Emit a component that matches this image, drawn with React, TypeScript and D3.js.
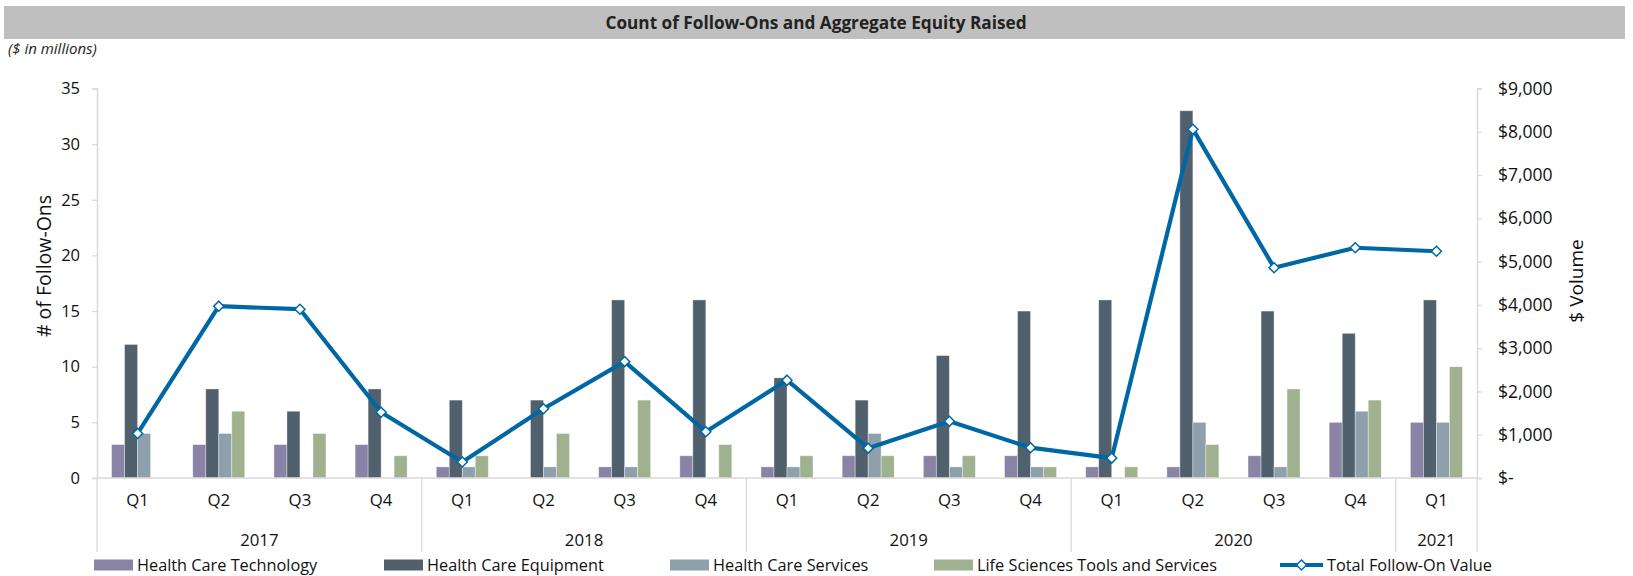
import React, { useEffect, useRef } from 'react';
import * as d3 from 'd3';

const quarters = ['Q1', 'Q2', 'Q3', 'Q4', 'Q1', 'Q2', 'Q3', 'Q4', 'Q1', 'Q2', 'Q3', 'Q4', 'Q1', 'Q2', 'Q3', 'Q4', 'Q1'];
const years = ['2017', '2018', '2019', '2020', '2021'];
const quartersPerYear = [4, 4, 4, 4, 1];

const seriesNames = ['Health Care Technology', 'Health Care Equipment', 'Health Care Services', 'Life Sciences Tools and Services'];
const healthCareTechnology = [3, 3, 3, 3, 1, 0, 1, 2, 1, 2, 2, 2, 1, 1, 2, 5, 5];
const healthCareEquipment = [12, 8, 6, 8, 7, 7, 16, 16, 9, 7, 11, 15, 16, 33, 15, 13, 16];
const healthCareServices = [4, 4, 0, 0, 1, 1, 1, 0, 1, 4, 1, 1, 0, 5, 1, 6, 5];
const lifeSciences = [0, 6, 4, 2, 2, 4, 7, 3, 2, 2, 2, 1, 1, 3, 8, 7, 10];
const totalValue = [1030, 3970, 3900, 1520, 370, 1600, 2690, 1070, 2260, 690, 1310, 700, 460, 8060, 4860, 5320, 5240];
const lineName = 'Total Follow-On Value';

const colors = ['#8983a5', '#50606d', '#8fa0ad', '#9fb18e'];
const lineColor = '#0067a5';
const font = "'Open Sans', sans-serif";

const App: React.FC = () => {
  const svgRef = useRef<SVGSVGElement>(null);

  useEffect(() => {
    if (!svgRef.current) return;
    const svg = d3.select(svgRef.current);
    svg.selectAll('*').remove();

    const left = 97, right = 1477, top = 88.5, bottom = 478;
    const seriesData = [healthCareTechnology, healthCareEquipment, healthCareServices, lifeSciences];

    // title bar
    svg.append('rect').attr('x', 4).attr('y', 6).attr('width', 1621).attr('height', 33).attr('fill', '#bfbfbf');
    svg.append('text').attr('x', 816).attr('y', 29).attr('text-anchor', 'middle')
      .attr('font-family', font).attr('font-weight', 700).attr('font-size', 17.2).attr('fill', '#222')
      .text('Count of Follow-Ons and Aggregate Equity Raised');
    svg.append('text').attr('x', 8).attr('y', 54).attr('font-family', font).attr('font-style', 'italic')
      .attr('font-size', 15).attr('fill', '#222').text('($ in millions)');

    const x = d3.scaleBand<number>().domain(d3.range(quarters.length)).range([left, right]).padding(0);
    const inner = d3.scaleBand<string>().domain(seriesNames).range([-26, 26]).padding(0);
    const yL = d3.scaleLinear().domain([0, 35]).range([bottom, top]);
    const yR = d3.scaleLinear().domain([0, 9000]).range([bottom, top]);
    const cx = (i: number) => x(i)! + x.bandwidth() / 2;

    const axisColor = '#d9d9d9';

    // left axis
    const gL = svg.append('g').attr('transform', `translate(${left},0)`)
      .call(d3.axisLeft(yL).tickValues(d3.range(0, 36, 5)).tickSize(5).tickPadding(12));
    gL.select('.domain').attr('stroke', axisColor).attr('stroke-width', 1.5);
    gL.selectAll('.tick line').attr('stroke', axisColor).attr('stroke-width', 1.2);
    gL.selectAll('.tick text').attr('font-family', font).attr('font-size', 16.5).attr('fill', '#111');

    // right axis
    const fmt = (v: number) => (v === 0 ? '$-' : '$' + d3.format(',')(v));
    const gR = svg.append('g').attr('transform', `translate(${right},0)`)
      .call(d3.axisRight(yR).tickValues(d3.range(0, 9001, 1000)).tickSize(5).tickPadding(16).tickFormat(d => fmt(+d)));
    gR.select('.domain').attr('stroke', axisColor).attr('stroke-width', 1.5);
    gR.selectAll('.tick line').attr('stroke', axisColor).attr('stroke-width', 1.2);
    gR.selectAll('.tick text').attr('font-family', font).attr('font-size', 17.5).attr('fill', '#111');

    svg.append('text').attr('transform', `translate(51,266) rotate(-90)`).attr('text-anchor', 'middle')
      .attr('font-family', font).attr('font-size', 19.5).attr('fill', '#111').text('# of Follow-Ons');
    svg.append('text').attr('transform', `translate(1583,281) rotate(-90)`).attr('text-anchor', 'middle')
      .attr('font-family', font).attr('font-size', 19).attr('fill', '#111').text('$ Volume');

    // bars
    seriesNames.forEach((name, s) => {
      svg.append('g').selectAll('rect').data(seriesData[s]).enter().append('rect')
        .attr('x', (_, i) => cx(i) + inner(name)!)
        .attr('width', inner.bandwidth())
        .attr('y', d => yL(d))
        .attr('height', d => bottom - yL(d))
        .attr('fill', colors[s])
        .attr('stroke', d => (d > 0 ? 'rgba(255,255,255,0.45)' : 'none'))
        .attr('stroke-width', 0.8);
    });

    // category axis
    svg.append('line').attr('x1', left).attr('x2', right).attr('y1', bottom).attr('y2', bottom).attr('stroke', axisColor).attr('stroke-width', 1.5);
    svg.append('g').selectAll('text').data(quarters).enter().append('text')
      .attr('x', (_, i) => cx(i)).attr('y', 506).attr('text-anchor', 'middle')
      .attr('font-family', font).attr('font-size', 16.8).attr('fill', '#111').text(d => d);

    let start = 0;
    const bounds: number[] = [x(0)!];
    years.forEach((yr, k) => {
      const end = start + quartersPerYear[k];
      const x0 = x(start)!;
      const x1 = end < quarters.length ? x(end)! : right;
      bounds.push(x1);
      svg.append('text').attr('x', (x0 + x1) / 2).attr('y', 546).attr('text-anchor', 'middle')
        .attr('font-family', font).attr('font-size', 16.8).attr('fill', '#111').text(yr);
      start = end;
    });
    svg.append('g').selectAll('line').data(bounds).enter().append('line')
      .attr('x1', d => d).attr('x2', d => d).attr('y1', bottom).attr('y2', 552)
      .attr('stroke', axisColor).attr('stroke-width', 1.2);

    // line
    const line = d3.line<number>().x((_, i) => cx(i)).y(d => yR(d));
    svg.append('path').datum(totalValue).attr('d', line).attr('fill', 'none')
      .attr('stroke', lineColor).attr('stroke-width', 4.2).attr('stroke-linejoin', 'round');
    const diamond = d3.symbol().type(d3.symbolDiamond2).size(64);
    svg.append('g').selectAll('path').data(totalValue).enter().append('path')
      .attr('d', diamond).attr('transform', (d, i) => `translate(${cx(i)},${yR(d)})`)
      .attr('fill', '#fff').attr('stroke', lineColor).attr('stroke-width', 1.5);

    // legend
    const legendY = 565;
    const legendX = [94, 384, 670, 934];
    seriesNames.forEach((name, s) => {
      svg.append('rect').attr('x', legendX[s]).attr('y', legendY - 5.5).attr('width', 39).attr('height', 11).attr('fill', colors[s]);
      svg.append('text').attr('x', legendX[s] + 43).attr('y', legendY + 5.5).attr('font-family', font)
        .attr('font-size', 16.3).attr('fill', '#111').text(name);
    });
    svg.append('line').attr('x1', 1280).attr('x2', 1323).attr('y1', legendY).attr('y2', legendY)
      .attr('stroke', lineColor).attr('stroke-width', 4.2);
    svg.append('path').attr('d', diamond).attr('transform', `translate(1301.5,${legendY})`)
      .attr('fill', '#fff').attr('stroke', lineColor).attr('stroke-width', 1.5);
    svg.append('text').attr('x', 1327).attr('y', legendY + 5.5).attr('font-family', font)
      .attr('font-size', 16.3).attr('fill', '#111').text(lineName);
  }, []);

  return (
    <svg ref={svgRef} width={1633} height={576}
      style={{ position: 'absolute', left: 0, top: 0, background: '#fff' }} />
  );
};

export default App;
